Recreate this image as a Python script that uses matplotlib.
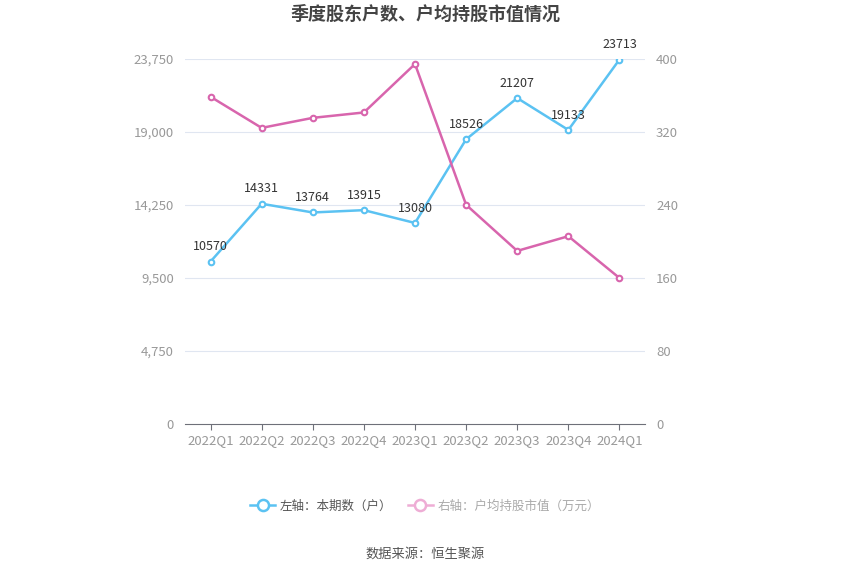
import matplotlib.pyplot as plt
from matplotlib.lines import Line2D

plt.rcParams['font.family'] = ['Noto Sans CJK SC', 'DejaVu Sans']

quarters = ['2022Q1', '2022Q2', '2022Q3', '2022Q4', '2023Q1', '2023Q2', '2023Q3', '2023Q4', '2024Q1']
holders = [10570, 14331, 13764, 13915, 13080, 18526, 21207, 19133, 23713]
avg_value = [358.6, 324.5, 335.5, 341.4, 394.5, 240.2, 189.7, 205.8, 160.0]

left_ticks = [0, 4750, 9500, 14250, 19000, 23750]
right_ticks = [0, 80, 160, 240, 320, 400]

blue = '#5bc2f2'
pink = '#d865ad'

fig = plt.figure(figsize=(8.5, 5.75), dpi=100)
ax = fig.add_axes([185 / 850, 1 - 424 / 575, 460 / 850, 365 / 575])
ax2 = ax.twinx()

x = list(range(len(quarters)))

# 网格线
for t in left_ticks[1:]:
    ax.axhline(t, color='#e0e6f1', linewidth=0.8, zorder=0)

ax.plot(x, holders, color=blue, linewidth=1.8, marker='o', markersize=4,
        markerfacecolor='white', markeredgewidth=1.5, zorder=3)
ax2.plot(x, avg_value, color=pink, linewidth=1.8, marker='o', markersize=4,
         markerfacecolor='white', markeredgewidth=1.5, zorder=3)

for xi, v in zip(x, holders):
    ax.annotate(str(v), (xi, v), xytext=(0, 6), textcoords='offset points',
                ha='center', va='bottom', fontsize=9, color='#333333')

ax.set_xlim(-0.5, len(quarters) - 0.5)
ax.set_ylim(0, 23750)
ax2.set_ylim(0, 400)
ax.set_yticks(left_ticks)
ax.set_yticklabels([f'{t:,}' for t in left_ticks])
ax2.set_yticks(right_ticks)
ax2.set_yticklabels([str(t) for t in right_ticks])
ax.set_xticks(x)
ax.set_xticklabels(quarters)

for a in (ax, ax2):
    for s in ['top', 'left', 'right', 'bottom']:
        a.spines[s].set_visible(False)
ax.spines['bottom'].set_visible(True)
ax.spines['bottom'].set_color('#6e7079')

ax.tick_params(axis='y', length=0, labelsize=9.5, labelcolor='#999999', pad=8)
ax2.tick_params(axis='y', length=0, labelsize=9.5, labelcolor='#999999', pad=8)
ax.tick_params(axis='x', length=4, color='#6e7079', labelsize=9.5, labelcolor='#999999', pad=3)

fig.text(0.5, 1 - 14 / 575, '季度股东户数、户均持股市值情况', ha='center', va='center',
         fontsize=13, fontweight='bold', color='#444444')

# 图例
h1 = Line2D([], [], color=blue, linewidth=1.8, marker='o', markersize=8,
            markerfacecolor='white', markeredgewidth=1.8)
h2 = Line2D([], [], color='#eeadd5', linewidth=1.8, marker='o', markersize=8,
            markerfacecolor='white', markeredgewidth=1.8)
leg = fig.legend([h1, h2], ['左轴：本期数（户）', '右轴：户均持股市值（万元）'],
                 loc='center', bbox_to_anchor=(0.5, 1 - 506 / 575), ncol=2,
                 frameon=False, fontsize=9, handlelength=2.0, columnspacing=1.2,
                 handletextpad=0.4)
leg.get_texts()[0].set_color('#555555')
leg.get_texts()[1].set_color('#aaaaaa')

fig.text(0.5, 1 - 554 / 575, '数据来源：恒生聚源', ha='center', va='center',
         fontsize=9.5, color='#555555')

fig.savefig('out.png', dpi=100)
